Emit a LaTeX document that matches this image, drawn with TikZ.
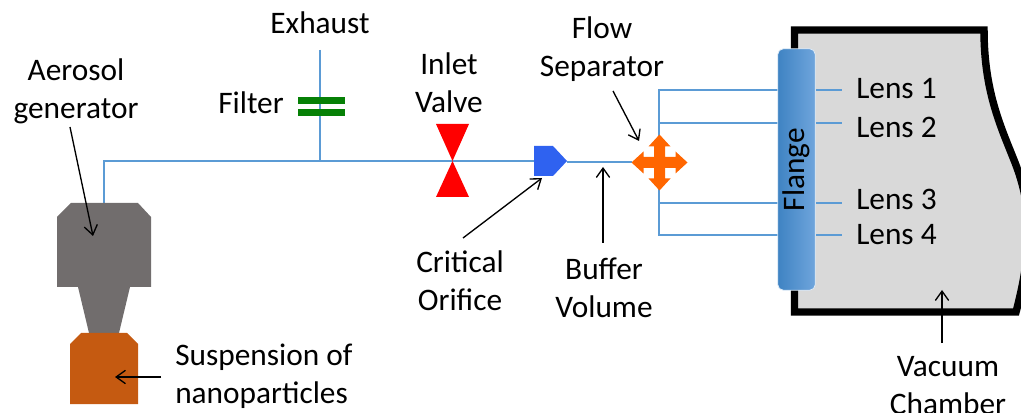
\documentclass[tikz,border=0pt]{standalone}
\usepackage{fontspec}
\setmainfont{Carlito}
\usepackage{xcolor}
\usetikzlibrary{arrows.meta,positioning}
\definecolor{wireblue}{HTML}{5B9BD5}
\definecolor{gengrey}{HTML}{716D6D}
\definecolor{susporange}{HTML}{C55A11}
\definecolor{sepblue}{HTML}{2F62F0}
\definecolor{seporange}{HTML}{FF6600}
\definecolor{filtergreen}{HTML}{068006}
\definecolor{flangelow}{HTML}{3F83C3}
\definecolor{flangehigh}{HTML}{6FA5DC}

\begin{document}
\begin{tikzpicture}[
  x=0.75pt, y=-0.75pt,
  lbl/.style={align=center, inner sep=0pt, font=\fontsize{23.5pt}{28.5pt}\selectfont},
  wire/.style={draw=wireblue, line width=1.1pt},
  arr/.style={-{Straight Barb[length=7pt,width=10pt]}, draw=black, line width=1pt},
  flangebox/.style={rectangle, rounded corners=4pt, draw=white!80!wireblue, line width=0.6pt,
              left color=flangelow, right color=flangehigh, inner sep=0pt,
              minimum width=181pt, minimum height=28pt, rotate=90, font=\fontsize{23.5pt}{28.5pt}\selectfont}
]
\useasboundingbox (0,0) rectangle (1021,413);
% vacuum chamber
\begin{scope}
\clip (0,0) rectangle (1021,413);
\draw[line width=5.6pt, draw=black, fill=black!15, miter limit=10]
  (794.5,30) -- (984,30) .. controls (984,90) and (1000,125) .. (1014,160)
  .. controls (1030,200) and (1035,240) .. (1016,312) -- (794.5,312) -- cycle;
\end{scope}
% coordinates on the lines
\coordinate (gen) at (104,203);
\coordinate (bend) at (104,161);
\coordinate (tee) at (320,161);
\coordinate (vent) at (320,50);
\coordinate (orin) at (534,161);
\coordinate (orout) at (567,162);
\coordinate (sepin) at (632,162);
\coordinate (bustop) at (659,90);
\coordinate (busbot) at (659,235);
\coordinate (busa) at (659,123);
\coordinate (busb) at (659,203);
\coordinate (fa) at (778,90);
\coordinate (fb) at (778,123);
\coordinate (fc) at (778,203);
\coordinate (fd) at (778,235);
\coordinate (ga) at (816,90);
\coordinate (gb) at (816,123);
\coordinate (gc) at (816,203);
\coordinate (gd) at (816,235);
\coordinate (ha) at (842,90);
\coordinate (hb) at (842,123);
\coordinate (hc) at (842,203);
\coordinate (hd) at (842,235);
\draw[wire] (gen) -- (bend) -- (tee) -- (orin);
\draw[wire] (vent) -- (tee);
\draw[wire] (orout) -- (sepin);
\draw[wire] (fa) -- (bustop) -- (busbot) -- (fd);
\draw[wire] (busa) -- (fb); \draw[wire] (busb) -- (fc);
\draw[wire] (ga) -- (ha); \draw[wire] (gb) -- (hb);
\draw[wire] (gc) -- (hc); \draw[wire] (gd) -- (hd);
% parts
\fill[gengrey] (71,203) -- (138,203) -- (151,217) -- (151,287) -- (130,287) -- (119,333)
  -- (89,333) -- (78,287) -- (57,287) -- (57,217) -- cycle;
\fill[susporange] (81,333) -- (127,333) -- (138,344) -- (138,404) -- (70,404) -- (70,344) -- cycle;
\fill[filtergreen] (298,97) rectangle (345,104);
\fill[filtergreen] (298,109) rectangle (345,116);
\fill[red] (436,124) -- (469,124) -- (452.5,161) -- cycle;
\fill[red] (436,197) -- (469,197) -- (452.5,161) -- cycle;
\fill[sepblue] (534,146) -- (553,146) -- (567,161) -- (553,176) -- (534,176) -- cycle;
\begin{scope}[shift={(659.5,162.5)}]
\fill[seporange] (0,-28) -- (11,-16) -- (5.5,-16) -- (5.5,-5.5) -- (16,-5.5) -- (16,-11) -- (28,0)
  -- (16,11) -- (16,5.5) -- (5.5,5.5) -- (5.5,16) -- (11,16) -- (0,28) -- (-11,16) -- (-5.5,16)
  -- (-5.5,5.5) -- (-16,5.5) -- (-16,11) -- (-28,0) -- (-16,-11) -- (-16,-5.5) -- (-5.5,-5.5)
  -- (-5.5,-16) -- (-11,-16) -- cycle;
\end{scope}
\node[flangebox] (flange) at (796.5,169.5) {Flange};
% labels
\node[lbl] (exhaust) at (320,23) {Exhaust};
\node[lbl] (filter) at (251,103) {Filter};
\node[lbl] (aerosol) at (76,91) {Aerosol\\generator};
\node[lbl] (inlet) at (449,83) {Inlet\\Valve};
\node[lbl] (flowsep) at (602,49) {Flow\\Separator};
\node[lbl] (orifice) at (460,281) {Critical\\Orifice};
\node[lbl] (buffer) at (604,288) {Buffer\\Volume};
\node[lbl, align=left, anchor=west] (susp) at (175,376) {Suspension of\\nanoparticles};
\node[lbl] (vacuum) at (948,386) {Vacuum\\Chamber};
\node[lbl, anchor=west] (lens1) at (856,89) {Lens 1};
\node[lbl, anchor=west] (lens2) at (856,127) {Lens 2};
\node[lbl, anchor=west] (lens3) at (856,199) {Lens 3};
\node[lbl, anchor=west] (lens4) at (856,235) {Lens 4};
% pointers
\coordinate (ptgen) at (93,236);
\coordinate (ptsusp) at (115,377);
\coordinate (ptor) at (542,178);
\coordinate (ptbuf) at (603,167);
\coordinate (ptsep) at (639,141);
\coordinate (ptvac) at (942,290);
\coordinate (fromgen) at (70,127);
\coordinate (fromsusp) at (161,377);
\coordinate (fromor) at (463,238);
\coordinate (frombuf) at (603,243);
\coordinate (fromsep) at (613,91);
\coordinate (fromvac) at (942,343);
\draw[arr] (fromgen) -- (ptgen);
\draw[arr] (fromsusp) -- (ptsusp);
\draw[arr] (fromor) -- (ptor);
\draw[arr] (frombuf) -- (ptbuf);
\draw[arr] (fromsep) -- (ptsep);
\draw[arr] (fromvac) -- (ptvac);
\end{tikzpicture}
\end{document}
